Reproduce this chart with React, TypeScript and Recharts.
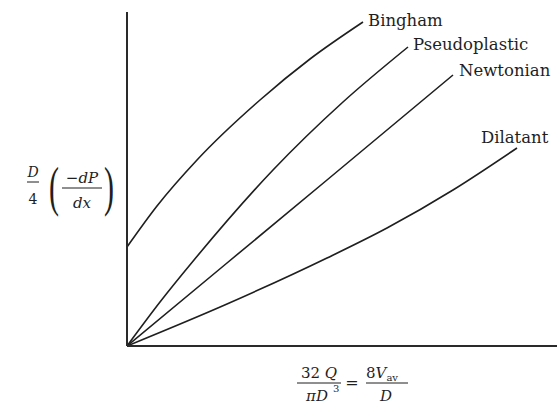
import { LineChart, Line, XAxis, YAxis, Label } from 'recharts';

// shear rate term (x) vs wall shear stress term (y)
const bingham = [
  { x: 0, y: 99 },
  { x: 30, y: 140 },
  { x: 70, y: 186 },
  { x: 133, y: 246 },
  { x: 183, y: 287 },
  { x: 236, y: 324 },
];
const pseudoplastic = [
  { x: 0, y: 0 },
  { x: 33, y: 44 },
  { x: 67, y: 86 },
  { x: 146, y: 176 },
  { x: 216, y: 244 },
  { x: 281, y: 299 },
];
const newtonian = [
  { x: 0, y: 0 },
  { x: 100, y: 83 },
  { x: 200, y: 166 },
  { x: 326, y: 271 },
];
const dilatant = [
  { x: 0, y: 0 },
  { x: 100, y: 42 },
  { x: 200, y: 88 },
  { x: 260, y: 118 },
  { x: 326, y: 156 },
  { x: 390, y: 198 },
];

const X_DOMAIN = [0, 430];
const Y_DOMAIN = [0, 334];

const SERIF = '"DejaVu Serif", "Liberation Serif", serif';
const INK = '#1f1f1f';

function endLabel(name: string, last: number, dx: number, dy: number) {
  return (props: any) => {
    if (props.index !== last) return null;
    return (
      <text
        key={name}
        x={props.x + dx}
        y={props.y + dy}
        fontFamily={SERIF}
        fontSize={16.5}
        fill={INK}
      >
        {name}
      </text>
    );
  };
}

function YFormula() {
  return (
    <g fontFamily={SERIF} fill={INK}>
      <text x={33} y={177} fontSize={14} fontStyle="italic" textAnchor="middle">
        D
      </text>
      <line x1={27} x2={39} y1={182} y2={182} stroke={INK} strokeWidth={1} />
      <text x={33} y={204} fontSize={14} textAnchor="middle">
        4
      </text>
      <text transform="translate(49,205) scale(1,1.85)" fontSize={30} fontFamily="Liberation Serif">
        (
      </text>
      <text x={82} y={183} fontSize={15} textAnchor="middle">
        −<tspan fontStyle="italic">dP</tspan>
      </text>
      <line x1={62} x2={102} y1={188} y2={188} stroke={INK} strokeWidth={1} />
      <text x={82} y={208} fontSize={15} fontStyle="italic" textAnchor="middle">
        dx
      </text>
      <text transform="translate(104,205) scale(1,1.85)" fontSize={30} fontFamily="Liberation Serif">
        )
      </text>
    </g>
  );
}

function XFormula() {
  return (
    <g fontFamily={SERIF} fill={INK}>
      <text x={319} y={378} fontSize={15} textAnchor="middle">
        32 <tspan fontStyle="italic">Q</tspan>
      </text>
      <line x1={297} x2={341} y1={383} y2={383} stroke={INK} strokeWidth={1} />
      <text x={317} y={401} fontSize={15} textAnchor="middle" fontStyle="italic">
        πD
      </text>
      <text x={333} y={392} fontSize={10}>
        3
      </text>
      <text x={352} y={388} fontSize={16} textAnchor="middle">
        =
      </text>
      <text x={366} y={378} fontSize={15}>
        8<tspan fontStyle="italic">V</tspan>
        <tspan fontSize={10} dy={3}>av</tspan>
      </text>
      <line x1={366} x2={408} y1={383} y2={383} stroke={INK} strokeWidth={1} />
      <text x={386} y={401} fontSize={15} textAnchor="middle" fontStyle="italic">
        D
      </text>
    </g>
  );
}

export default function App() {
  return (
    <div style={{ position: 'absolute', left: 0, top: 0, width: 557, height: 407, background: '#fff' }}>
      <LineChart width={557} height={407} margin={{ top: 12, right: 0, bottom: 0, left: 0 }}>
        <XAxis
          type="number"
          dataKey="x"
          domain={X_DOMAIN}
          allowDataOverflow
          height={61}
          tick={false}
          tickLine={false}
          axisLine={{ stroke: '#2a2a2a', strokeWidth: 2 }}
        >
          <Label content={() => <XFormula />} />
        </XAxis>
        <YAxis
          type="number"
          dataKey="y"
          domain={Y_DOMAIN}
          allowDataOverflow
          width={127}
          tick={false}
          tickLine={false}
          axisLine={{ stroke: '#2a2a2a', strokeWidth: 2 }}
        >
          <Label content={() => <YFormula />} />
        </YAxis>
        <Line
          data={bingham}
          dataKey="y"
          type="monotone"
          stroke={INK}
          strokeWidth={1.6}
          dot={false}
          isAnimationActive={false}
          label={endLabel('Bingham', bingham.length - 1, 5, 4)}
        />
        <Line
          data={pseudoplastic}
          dataKey="y"
          type="monotone"
          stroke={INK}
          strokeWidth={1.6}
          dot={false}
          isAnimationActive={false}
          label={endLabel('Pseudoplastic', pseudoplastic.length - 1, 5, 3)}
        />
        <Line
          data={newtonian}
          dataKey="y"
          type="linear"
          stroke={INK}
          strokeWidth={1.6}
          dot={false}
          isAnimationActive={false}
          label={endLabel('Newtonian', newtonian.length - 1, 6, 1)}
        />
        <Line
          data={dilatant}
          dataKey="y"
          type="monotone"
          stroke={INK}
          strokeWidth={1.6}
          dot={false}
          isAnimationActive={false}
          label={endLabel('Dilatant', dilatant.length - 1, -36, -5)}
        />
      </LineChart>
    </div>
  );
}
